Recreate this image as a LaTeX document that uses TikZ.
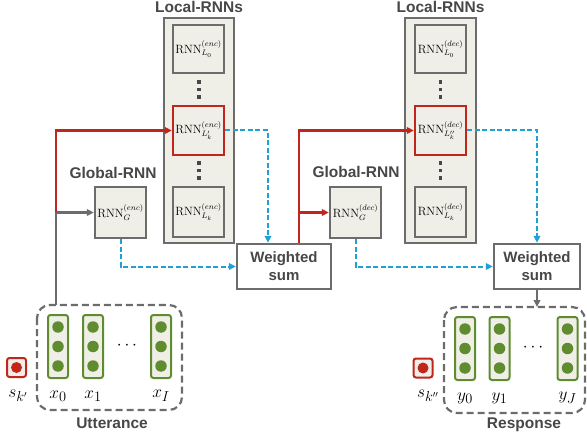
\documentclass[tikz,border=0pt]{standalone}
\usepackage{fontspec}
\newfontfamily\labfont{Liberation Sans}
\usetikzlibrary{arrows.meta,calc}
\definecolor{boxfill}{HTML}{F0EFE7}
\definecolor{boxgray}{HTML}{6C6C6C}
\definecolor{txtgray}{HTML}{474747}
\definecolor{myred}{HTML}{C0261B}
\definecolor{myblue}{HTML}{1DA1D6}
\definecolor{mygreen}{HTML}{5E8C2F}
\tikzset{
  rnnbox/.style={draw=boxgray,line width=2.3pt,fill=boxfill,inner sep=0pt,minimum width=51pt,minimum height=48pt,font=\fontsize{12}{13}\selectfont},
  redbox/.style={rnnbox,draw=myred},
  outerbox/.style={draw=boxgray,line width=2.5pt,fill=boxfill,inner sep=0pt},
  wsbox/.style={draw=boxgray,line width=2.3pt,fill=white,inner sep=0pt,minimum height=45pt,align=center,text=txtgray,font=\labfont\bfseries\fontsize{15}{18}\selectfont},
  title/.style={text=txtgray,font=\labfont\bfseries\fontsize{15.5}{17}\selectfont},
  grayline/.style={draw=boxgray,line width=2.2pt},
  redline/.style={draw=myred,line width=2.2pt},
  blueline/.style={draw=myblue,line width=2pt,dash pattern=on 5pt off 2.5pt},
  tip/.style={-{Triangle[length=7pt,width=6.5pt]}},
  vecbox/.style={draw=mygreen,line width=2pt,fill=boxfill,rounded corners=2.5pt,minimum width=20pt,minimum height=63pt,inner sep=0pt},
  gdot/.style={circle,fill=mygreen,minimum size=11.5pt,inner sep=0pt},
  sbox/.style={draw=myred,line width=2pt,fill=boxfill,rounded corners=2.5pt,minimum size=19pt,inner sep=0pt},
  rdot/.style={circle,fill=myred,minimum size=11pt,inner sep=0pt},
  groupbox/.style={draw=boxgray,line width=2.2pt,dash pattern=on 7pt off 4pt,rounded corners=13pt},
  vdot/.style={fill=txtgray,minimum size=3.5pt,inner sep=0pt},
  mlabel/.style={font=\fontsize{19}{21}\selectfont},
}
\begin{document}
\begin{tikzpicture}[x=1pt,y=-1pt]
\useasboundingbox (0,0) rectangle (587,441);
% Local RNNs enc
\node[outerbox,minimum width=70pt,minimum height=225pt] (lenc) at (199,130.5) {};
\node[title] (lenct) at (199,7) {Local-RNNs};
\node[rnnbox] (e0) at (198.5,49) {$\mathrm{RNN}^{(enc)}_{L_0}$};
\node[redbox,minimum height=49pt] (e1) at (198.5,130.5) {$\mathrm{RNN}^{(enc)}_{L'_k}$};
\node[rnnbox,minimum height=50pt] (ek) at (198.5,212) {$\mathrm{RNN}^{(enc)}_{L_k}$};
\foreach \yy [count=\i] in {82,89.5,97,163,170.5,178} \node[vdot] (ed\i) at (199,\yy) {};
% Local RNNs dec
\node[outerbox,minimum width=71pt,minimum height=225pt] (ldec) at (440.5,130.5) {};
\node[title] (ldect) at (440.5,7) {Local-RNNs};
\node[rnnbox] (d0) at (440.5,49) {$\mathrm{RNN}^{(dec)}_{L_0}$};
\node[redbox,minimum height=49pt] (d1) at (440.5,130.5) {$\mathrm{RNN}^{(dec)}_{L''_k}$};
\node[rnnbox,minimum height=50pt] (dk) at (440.5,212) {$\mathrm{RNN}^{(dec)}_{L_k}$};
\foreach \yy [count=\i] in {82,89.5,97,163,170.5,178} \node[vdot] (dd\i) at (440.5,\yy) {};
% Global RNNs
\node[rnnbox,minimum height=51pt] (genc) at (120.5,212.5) {$\mathrm{RNN}^{(enc)}_{G}$};
\node[title] (genct) at (113,173) {Global-RNN};
\node[rnnbox,minimum height=51pt] (gdec) at (355.5,212.5) {$\mathrm{RNN}^{(dec)}_{G}$};
\node[title] (gdect) at (356,172) {Global-RNN};
% Weighted sums
\node[wsbox,minimum width=94pt] (ws1) at (284,266.5) {Weighted\\sum};
\node[wsbox,minimum width=86pt] (ws2) at (537,266.5) {Weighted\\sum};
% Utterance
\draw[groupbox] (37,305) rectangle (182,410);
\coordinate (uttop) at (56,305);
\node[title] (uttl) at (112,423) {Utterance};
\foreach \xx/\nm/\lb in {58/x0/x_0,93/x1/x_1,161/xI/x_I}{
  \node[vecbox] (\nm) at (\xx,346.5) {};
  \node[gdot] at (\xx,327) {};
  \node[gdot] at (\xx,346.5) {};
  \node[gdot] at (\xx,366) {};
  \node[mlabel] (\nm l) at (\xx,396) {$\lb$};
}
\node[font=\fontsize{16}{16}\selectfont] (udots) at (127,346) {$\cdots$};
\node[sbox] (s1) at (16.5,367.5) {};
\node[rdot] at (16.5,367.5) {};
\node[mlabel] (s1l) at (18,396) {$s_{k'}$};
% Response
\draw[groupbox] (444,307) rectangle (585,413);
\node[title] (respl) at (524,425) {Response};
\foreach \xx/\nm/\lb in {465/y0/y_0,499.5/y1/y_1,567.5/yJ/y_J}{
  \node[vecbox] (\nm) at (\xx,348.5) {};
  \node[gdot] at (\xx,329) {};
  \node[gdot] at (\xx,348.5) {};
  \node[gdot] at (\xx,368) {};
  \node[mlabel] (\nm l) at (\xx,398) {$\lb$};
}
\node[font=\fontsize{16}{16}\selectfont] (rdots) at (533,348) {$\cdots$};
\node[sbox] (s2) at (423,368) {};
\node[rdot] at (423,368) {};
\node[mlabel] (s2l) at (428,396) {$s_{k''}$};
\coordinate (resptop) at (537,307);
% Connectors
\coordinate (j1) at (56,212.5);
\draw[grayline,tip] (uttop) |- (genc.west);
\draw[redline,tip] (j1) |- (e1.west);
\draw[blueline,tip] (genc.south) |- (ws1.west);
\draw[blueline,tip] (e1.east) -| ([xshift=-16pt]ws1.north);
\draw[redline,tip] ([xshift=15pt]ws1.north) |- (d1.west);
\coordinate (j2) at ([xshift=15pt]ws1.north |- gdec.west);
\draw[redline,tip] (j2) -- (gdec.west);
\draw[blueline,tip] (gdec.south) |- (ws2.west);
\draw[blueline,tip] (d1.east) -| (ws2.north);
\draw[grayline,tip] (ws2.south) -- (resptop);
\end{tikzpicture}
\end{document}
